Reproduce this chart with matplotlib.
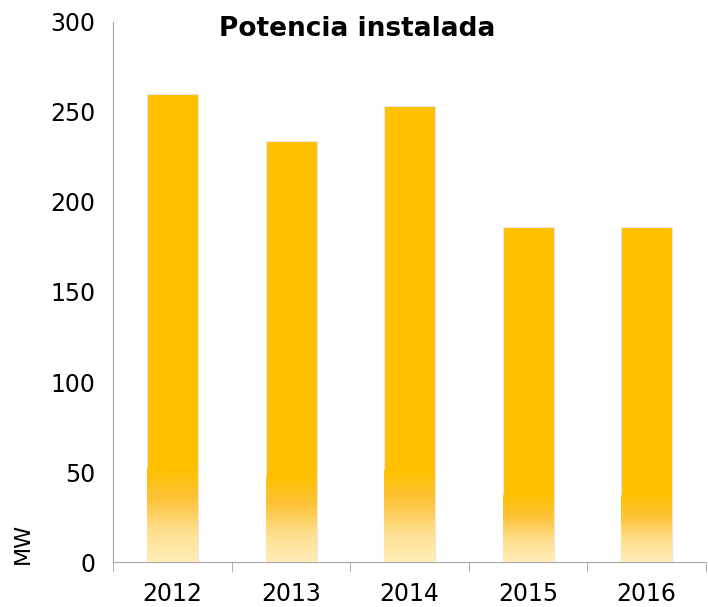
import numpy as np
import matplotlib.pyplot as plt
from matplotlib.colors import LinearSegmentedColormap

years = ["2012", "2013", "2014", "2015", "2016"]
power_mw = [260, 234, 253, 186, 186]

plt.rcParams['font.family'] = ['DejaVu Sans']

fig = plt.figure(figsize=(7.08, 6.07), dpi=100)
ax = fig.add_axes([0.16, 0.074, 0.837, 0.89])

x = np.arange(len(years))
width = 0.43
bars = ax.bar(x, power_mw, width=width, color="#FFC000", edgecolor="#E6E6E6", linewidth=0.8, zorder=2)

# bottom fade of each bar
cmap = LinearSegmentedColormap.from_list("fade", ["#FFEDB8", "#FFDF8E", "#FDC33A", "#FFC000"])
grad = np.linspace(0, 1, 256).reshape(-1, 1)
for b in bars:
    h = b.get_height()
    x0 = b.get_x()
    ax.imshow(grad, cmap=cmap, origin="lower", aspect="auto",
              extent=[x0, x0 + b.get_width(), 0, h * 0.2], zorder=3, interpolation="bilinear")

ax.set_xlim(-0.5, len(years) - 0.5)
ax.set_ylim(0, 300)
ax.set_yticks(range(0, 301, 50))
ax.set_xticks(x)
ax.set_xticklabels(years)
ax.set_xticks(np.arange(-0.5, len(years)), minor=True)
ax.tick_params(axis="x", which="major", length=0, labelsize=17, pad=14)
ax.tick_params(axis="x", which="minor", length=7, color="#A6A6A6")
ax.tick_params(axis="y", length=0, labelsize=17, pad=13)

for side in ["top", "right"]:
    ax.spines[side].set_visible(False)
ax.spines["left"].set_color("#A6A6A6")
ax.spines["bottom"].set_color("#A6A6A6")

fig.text(0.504, 0.953, "Potencia instalada", fontsize=19, fontweight="bold", ha="center", va="center")
fig.text(0.033, 0.105, "MW", fontsize=16, rotation=90, ha="center", va="center")

fig.savefig("out.png", dpi=100)
